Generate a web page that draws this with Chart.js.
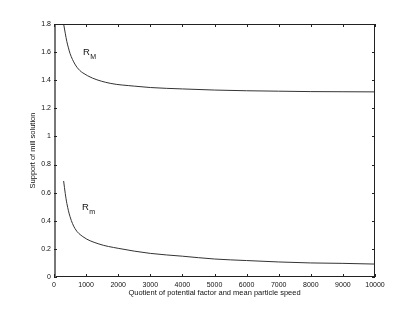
<!DOCTYPE html>
<html><head><meta charset="utf-8">
<script src="https://cdn.jsdelivr.net/npm/chart.js@4"></script>
<style>html,body{margin:0;padding:0;background:#fff}#c{display:block}</style>
</head><body>
<canvas id="c" width="415" height="312"></canvas>
<script>
const rMaxX = [300, 350, 400, 450, 500, 650, 800, 900, 1200, 1750, 2500, 3000, 4000, 5000, 6000, 7000, 8000, 9000, 10000];
const rMaxY = [1.80, 1.735, 1.675, 1.63, 1.59, 1.515, 1.47, 1.452, 1.415, 1.378, 1.358, 1.348, 1.338, 1.330, 1.325, 1.322, 1.319, 1.318, 1.317];
const rMinX = [300, 350, 400, 500, 650, 900, 1400, 2000, 3000, 4000, 5000, 6000, 7000, 8000, 9000, 10000];
const rMinY = [0.683, 0.595, 0.524, 0.429, 0.346, 0.287, 0.235, 0.204, 0.168, 0.148, 0.128, 0.117, 0.107, 0.100, 0.097, 0.092];
const xTicks = [0, 1000, 2000, 3000, 4000, 5000, 6000, 7000, 8000, 9000, 10000];
const xTickLabels = ['0','1000','2000','3000','4000','5000','6000','7000','8000','9000','10000'];
const yTicks = [0, 0.2, 0.4, 0.6, 0.8, 1, 1.2, 1.4, 1.6, 1.8];
const yTickLabels = ['0','0.2','0.4','0.6','0.8','1','1.2','1.4','1.6','1.8'];
const curveLabels = [
  {x: 900, y: 1.58, main: 'R', sub: 'M'},
  {x: 870, y: 0.477, main: 'R', sub: 'm'}
];

const FONT = "'Liberation Sans', Arial, sans-serif";

const framePlugin = {
  id: 'frame',
  afterDraw(chart) {
    const {ctx, chartArea: a, scales} = chart;
    const xs = scales.x, ys = scales.y;
    ctx.save();
    ctx.strokeStyle = '#222';
    ctx.lineWidth = 1;
    ctx.beginPath();
    ctx.moveTo(a.left, a.top + 0.5); ctx.lineTo(a.right, a.top + 0.5);
    ctx.moveTo(a.right - 0.5, a.top); ctx.lineTo(a.right - 0.5, a.bottom);
    ctx.moveTo(a.left, a.bottom - 0.5); ctx.lineTo(a.right, a.bottom - 0.5);
    ctx.stroke();
    ctx.strokeStyle = '#777';
    ctx.lineWidth = 2;
    ctx.beginPath();
    ctx.moveTo(a.left + 1, a.top); ctx.lineTo(a.left + 1, a.bottom);
    ctx.stroke();
    ctx.strokeStyle = '#222';
    ctx.lineWidth = 1;
    ctx.beginPath();
    const tl = 3;
    xTicks.forEach(v => {
      const px = Math.round(xs.getPixelForValue(v)) + 0.5;
      ctx.moveTo(px, a.bottom); ctx.lineTo(px, a.bottom - tl);
      ctx.moveTo(px, a.top); ctx.lineTo(px, a.top + tl);
    });
    yTicks.forEach(v => {
      const py = Math.round(ys.getPixelForValue(v)) + 0.5;
      ctx.moveTo(a.left, py); ctx.lineTo(a.left + tl, py);
      ctx.moveTo(a.right, py); ctx.lineTo(a.right - tl, py);
    });
    ctx.stroke();
    ctx.fillStyle = '#111';
    ctx.textBaseline = 'alphabetic';
    curveLabels.forEach(l => {
      const px = xs.getPixelForValue(l.x), py = ys.getPixelForValue(l.y);
      ctx.font = '9.5px ' + FONT;
      ctx.textAlign = 'left';
      ctx.fillText(l.main, px, py);
      const w = ctx.measureText(l.main).width;
      ctx.font = '7px ' + FONT;
      ctx.fillText(l.sub, px + w + 0.5, py + 4);
    });
    ctx.restore();
  }
};

new Chart(document.getElementById('c'), {
  type: 'line',
  data: {
    datasets: [
      {data: rMaxX.map((x, i) => ({x, y: rMaxY[i]})), borderColor: '#333', borderWidth: 1, pointRadius: 0, cubicInterpolationMode: 'monotone', fill: false},
      {data: rMinX.map((x, i) => ({x, y: rMinY[i]})), borderColor: '#333', borderWidth: 1, pointRadius: 0, cubicInterpolationMode: 'monotone', fill: false}
    ]
  },
  options: {
    responsive: false,
    animation: false,
    devicePixelRatio: 1,
    layout: {padding: {left: 0, right: 40, top: 24, bottom: 0}},
    plugins: {legend: {display: false}, tooltip: {enabled: false}},
    scales: {
      x: {
        type: 'linear', min: 0, max: 10000,
        afterFit(s) { s.height = 35; },
        afterBuildTicks(s) { s.ticks = xTicks.map(v => ({value: v})); },
        grid: {display: false, drawTicks: false},
        border: {display: false},
        ticks: {padding: 4, color: '#111', font: {family: FONT, size: 7}, maxRotation: 0, autoSkip: false,
          callback: (v) => { const i = xTicks.indexOf(v); return i >= 0 ? xTickLabels[i] : ''; }},
        title: {display: true, text: 'Quotient of potential factor and mean particle speed', color: '#111',
          font: {family: FONT, size: 7.5}, padding: {top: 0, bottom: 14.5}}
      },
      y: {
        type: 'linear', min: 0, max: 1.8,
        afterFit(s) { s.width = 54; },
        afterBuildTicks(s) { s.ticks = yTicks.map(v => ({value: v})); },
        grid: {display: false, drawTicks: false},
        border: {display: false},
        ticks: {padding: 3, color: '#111', font: {family: FONT, size: 7}, autoSkip: false,
          callback: (v) => { const i = yTicks.findIndex(t => Math.abs(t - v) < 1e-9); return i >= 0 ? yTickLabels[i] : ''; }},
        title: {display: true, text: 'Support of mill solution', color: '#111',
          font: {family: FONT, size: 7.5}, padding: {top: 28, bottom: 0}}
      }
    }
  },
  plugins: [framePlugin]
});
</script>
</body></html>
